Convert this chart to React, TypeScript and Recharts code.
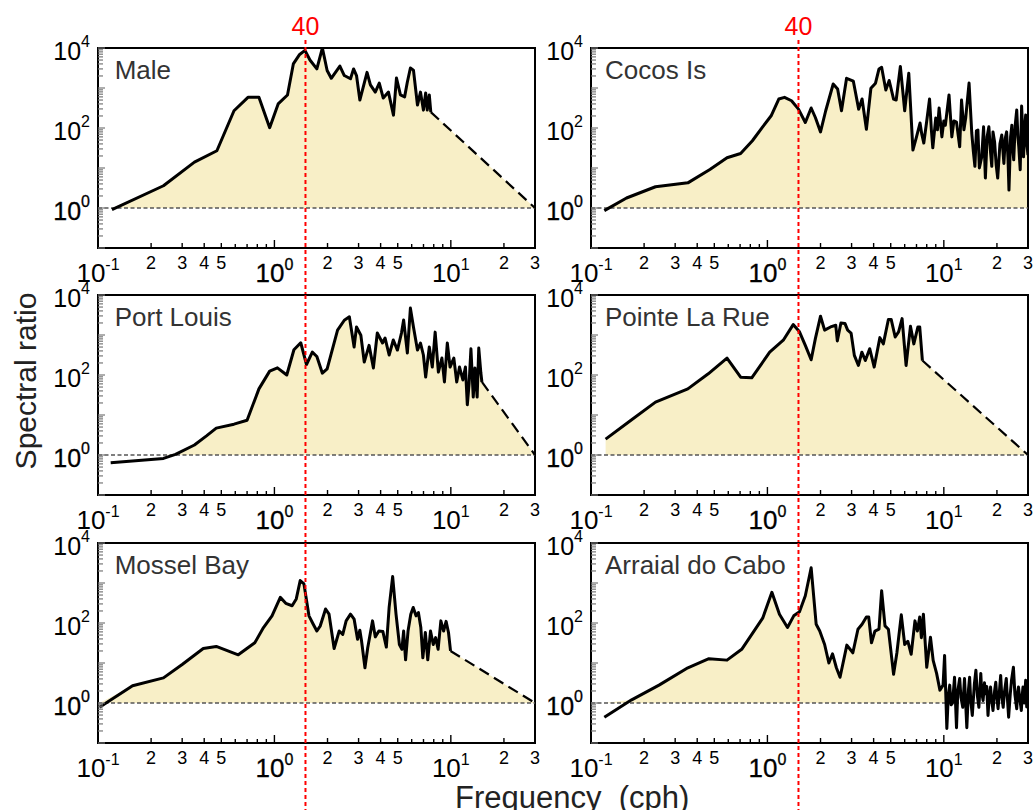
import React from 'react';
import { ComposedChart, Line, Area, XAxis, YAxis, ReferenceLine, ReferenceArea } from 'recharts';

// ---------------- DATA ----------------
const X_TICKS = [0.1, 0.2, 0.3, 0.4, 0.5, 0.6, 0.7, 0.8, 0.9, 1, 2, 3, 4, 5, 6, 7, 8, 9, 10, 20, 30];
const Y_TICKS = [
  0.1, 0.2, 0.3, 0.4, 0.5, 0.6, 0.7, 0.8, 0.9, 1, 2, 3, 4, 5, 6, 7, 8, 9, 10, 20, 30, 40, 50, 60, 70, 80, 90,
  100, 200, 300, 400, 500, 600, 700, 800, 900, 1000, 2000, 3000, 4000, 5000, 6000, 7000, 8000, 9000, 10000,
];
const Y_LABELED_EXP = [4, 2, 0];
const X_DOMAIN: [number, number] = [0.1, 30];
const Y_DOMAIN: [number, number] = [0.1, 10000];
const PERIOD_FREQ = 1.5; // 40-min period in cph
const PERIOD_LABEL = '40';
const BASE_RATIO = 1;
const EXTRAP_END: [number, number] = [30, 1];

const MALE: [number, number][] = [
  [0.12, 0.91], [0.235, 3.6], [0.352, 14], [0.472, 27], [0.59, 270], [0.708, 585], [0.817, 585], [0.94, 102],
  [1.05, 400], [1.186, 670], [1.28, 4000], [1.39, 6900], [1.49, 8700], [1.59, 5000], [1.74, 3000], [1.87, 10000],
  [1.99, 2740], [2.1, 1750], [2.35, 3540], [2.49, 2050], [2.7, 1700], [2.81, 3000], [2.92, 2050], [3.05, 500],
  [3.35, 2460], [3.5, 1200], [3.73, 790], [3.93, 1330], [4.14, 560], [4.43, 790], [4.73, 210], [4.92, 1780],
  [5.18, 670], [5.47, 600], [5.67, 1410], [5.9, 3160], [6.14, 2800], [6.47, 375], [6.73, 790], [6.99, 280],
  [7.2, 750], [7.35, 280], [7.55, 670], [7.7, 250],
];

const COCOS: [number, number][] = [
  [0.119, 0.86], [0.159, 1.78], [0.232, 3.4], [0.354, 4.25], [0.472, 9.2], [0.59, 18], [0.705, 23], [0.822, 48],
  [0.94, 107], [1.05, 202], [1.16, 530], [1.25, 585], [1.37, 480], [1.5, 296], [1.64, 137], [1.77, 316],
  [1.87, 183], [2.0, 80], [2.14, 270], [2.36, 1260], [2.5, 950], [2.63, 270], [2.81, 1750], [3.07, 1480],
  [3.29, 296], [3.44, 530], [3.64, 93], [3.86, 985], [4.1, 1320], [4.29, 3000], [4.44, 3300], [4.69, 890],
  [4.9, 1540], [5.19, 530], [5.37, 500], [5.67, 3470], [6.0, 270], [6.33, 2340], [6.68, 28], [7.0, 60],
  [7.33, 133], [7.5, 70], [7.7, 42], [8.0, 150], [8.3, 530], [8.5, 90], [8.66, 32], [9.0, 178], [9.2, 90],
  [9.4, 316], [9.75, 60], [10.0, 150], [10.2, 117], [10.7, 670], [11.1, 60], [11.4, 150], [11.8, 140],
  [12.3, 34], [12.6, 500], [13.0, 90], [13.3, 178], [13.9, 1330], [14.4, 75], [14.7, 26], [15.0, 11],
  [15.3, 85], [15.6, 89], [15.9, 10], [16.4, 19], [16.8, 107], [17.2, 5.6], [17.6, 60], [18.0, 107],
  [18.4, 25], [18.7, 11], [19.0, 80], [19.4, 45], [19.8, 12], [20.2, 5.6], [20.8, 40], [21.3, 67],
  [21.9, 13], [22.3, 55], [22.7, 80], [23.1, 18], [23.4, 2.8], [23.9, 60], [24.3, 117], [24.6, 30],
  [24.9, 16], [25.4, 120], [25.9, 282], [26.3, 60], [26.6, 34], [27.1, 9], [27.6, 355], [28.0, 80],
  [28.3, 19], [28.7, 90], [29.1, 210], [29.5, 40], [30, 21],
];

const PORT_LOUIS: [number, number][] = [
  [0.118, 0.64], [0.235, 0.82], [0.275, 1.04], [0.352, 1.78], [0.412, 3.0], [0.468, 4.7], [0.59, 5.9],
  [0.7, 7.4], [0.817, 45], [0.94, 125], [1.04, 151], [1.175, 100], [1.29, 427], [1.41, 640], [1.52, 183],
  [1.64, 372], [1.74, 290], [1.87, 111], [1.99, 142], [2.28, 1320], [2.49, 2340], [2.66, 2840], [2.83, 500],
  [2.92, 1590], [3.09, 985], [3.23, 210], [3.44, 550], [3.64, 150], [3.83, 1120], [4.1, 630], [4.24, 840],
  [4.47, 316], [4.72, 750], [4.98, 420], [5.25, 1120], [5.4, 2370], [5.67, 355], [5.9, 4700], [6.14, 1590],
  [6.47, 420], [6.73, 630], [6.99, 316], [7.2, 89], [7.55, 500], [7.85, 158], [8.15, 1180], [8.5, 118],
  [8.9, 265], [9.2, 67], [9.55, 630], [9.9, 158], [10.4, 265], [10.8, 67], [11.2, 158], [11.7, 75],
  [12.1, 158], [12.4, 18], [12.7, 63], [13.0, 450], [13.4, 28], [13.7, 150], [14.1, 28], [14.4, 470],
  [14.8, 112], [15.0, 67],
];

const POINTE_LA_RUE: [number, number][] = [
  [0.121, 2.5], [0.167, 7.2], [0.232, 21], [0.354, 45], [0.462, 107], [0.59, 265], [0.705, 88], [0.815, 85],
  [1.03, 372], [1.23, 740], [1.4, 1820], [1.52, 1200], [1.64, 550], [1.77, 240], [1.87, 810], [2.0, 2950],
  [2.11, 1320], [2.28, 1590], [2.44, 1750], [2.49, 710], [2.61, 2000], [2.75, 1950], [2.85, 1320],
  [2.98, 1120], [3.11, 310], [3.28, 173], [3.43, 372], [3.59, 230], [3.8, 455], [4.03, 158], [4.34, 860],
  [4.54, 600], [4.85, 2450], [5.03, 2450], [5.3, 890], [5.54, 1200], [5.8, 2570], [6.11, 173], [6.47, 1660],
  [6.76, 600], [7.13, 1590], [7.3, 1590], [7.56, 230],
];

const MOSSEL_BAY: [number, number][] = [
  [0.102, 0.78], [0.157, 2.7], [0.235, 4.25], [0.3, 9.2], [0.395, 23], [0.468, 26], [0.624, 16], [0.774, 32],
  [0.867, 77], [0.969, 151], [1.08, 437], [1.16, 310], [1.26, 270], [1.33, 400], [1.4, 1150], [1.47, 950],
  [1.57, 151], [1.66, 93], [1.74, 63], [1.82, 85], [1.95, 224], [2.04, 166], [2.18, 23], [2.33, 63],
  [2.44, 52], [2.55, 113], [2.7, 166], [2.83, 125], [2.96, 39], [3.05, 66], [3.12, 35], [3.26, 7.6],
  [3.38, 24], [3.6, 113], [3.73, 45], [3.91, 63], [4.12, 61], [4.31, 25], [4.47, 245], [4.68, 1450],
  [4.89, 166], [5.11, 29], [5.28, 22], [5.4, 63], [5.54, 12], [5.72, 63], [5.93, 166], [6.12, 245],
  [6.35, 151], [6.55, 183], [6.76, 77], [6.94, 13.5], [7.17, 58], [7.4, 12], [7.67, 63], [7.95, 29],
  [8.2, 43], [8.47, 22], [8.78, 113], [9.1, 63], [9.4, 110], [9.7, 58], [9.96, 20],
];

const ARRAIAL: [number, number][] = [
  [0.119, 0.44], [0.17, 1.2], [0.243, 2.8], [0.354, 7.6], [0.466, 12.8], [0.59, 11.8], [0.715, 22],
  [0.83, 58], [0.94, 132], [1.06, 585], [1.17, 166], [1.3, 77], [1.41, 151], [1.52, 190], [1.64, 480],
  [1.77, 2400], [1.89, 93], [1.98, 63], [2.11, 29], [2.23, 10], [2.34, 17], [2.46, 7.6], [2.58, 4.4],
  [2.82, 28], [3.05, 18], [3.26, 70], [3.44, 93], [3.64, 142], [3.75, 142], [3.89, 32], [4.07, 63],
  [4.29, 70], [4.44, 640], [4.64, 85], [4.85, 70], [5.19, 5.2], [5.42, 18], [5.74, 160], [6.0, 29],
  [6.25, 35], [6.53, 16.5], [6.86, 113], [7.08, 63], [7.3, 142], [7.46, 43], [7.66, 166], [8.0, 7.8],
  [8.4, 44], [8.7, 11.6], [9.1, 5.5], [9.5, 2.1], [9.9, 2.8], [10.1, 15.5], [10.4, 0.23], [10.6, 1.5],
  [10.8, 2.8], [11.0, 0.9], [11.2, 1.0], [11.5, 4.4], [11.8, 0.24], [12.0, 2.0], [12.3, 4.1], [12.5, 1.4],
  [12.8, 0.78], [13.1, 4.1], [13.5, 0.24], [13.8, 2.2], [14.0, 4.4], [14.2, 1.2], [14.5, 0.49], [14.9, 3.0],
  [15.2, 6.6], [15.5, 1.5], [15.8, 0.78], [16.2, 5.5], [16.4, 1.8], [16.7, 1.16], [17.0, 3.2], [17.2, 1.7],
  [17.5, 2.6], [17.8, 0.49], [18.1, 1.6], [18.4, 2.5], [18.7, 1.1], [19.0, 0.65], [19.4, 2.0], [19.7, 3.3],
  [20.0, 1.3], [20.3, 0.72], [20.7, 2.2], [21, 4.9], [21.3, 1.5], [21.7, 0.78], [22.1, 2.0], [22.6, 4.1],
  [22.9, 1.4], [23.3, 0.44], [23.8, 1.7], [24.2, 3.7], [24.8, 7.8], [25.3, 1.6], [25.9, 0.72], [26.2, 1.8],
  [26.5, 2.5], [27.0, 1.2], [27.5, 0.65], [27.8, 1.5], [28.1, 2.5], [28.6, 1.0], [29.1, 3.7], [29.5, 0.8],
  [30, 1.0],
];

const PANEL_NAMES = ['Male', 'Cocos Is', 'Port Louis', 'Pointe La Rue', 'Mossel Bay', 'Arraial do Cabo'];
const PANEL_SERIES = [MALE, COCOS, PORT_LOUIS, POINTE_LA_RUE, MOSSEL_BAY, ARRAIAL];
const PANEL_EXTRAP = [true, false, true, true, true, false];
const PANEL_FILL_MAX = [30, 30, 30, 30, 30, 10.1];

// ---------------- LAYOUT / STYLE ----------------
const FONT = '"Liberation Sans", Arial, Helvetica, sans-serif';
const PAGE_H = 810;
const PLOT_LEFT = [97.7, 591];
const PLOT_TOP = [47.5, 295, 542.6];
const PLOT_W = 437;
const PLOT_H = 200;
const PX_PER_DECADE = 40;
const M_LEFT = 90;
const M_TOP = 47;
const FILL = '#f8efc7';

function decomp(v: number) {
  const e = Math.floor(Math.log10(v) + 1e-9);
  const m = Math.round(v / Math.pow(10, e));
  return { e, m };
}

const XTick = (props: any) => {
  const { x, y, payload } = props;
  const { e, m } = decomp(payload.value);
  const major = m === 1;
  const labeled = m <= 5;
  const len = major ? 8 : labeled ? 5 : 4;
  return (
    <g>
      <line x1={x} x2={x} y1={y} y2={y - len} stroke="#000" strokeWidth={1.4} />
      {major ? (
        <text
          x={x}
          y={y + 34}
          textAnchor="middle"
          fontFamily={FONT}
          fontSize={26}
          fill="#000"
          stroke={e === 0 ? '#000' : 'none'}
          strokeWidth={0.3}
        >
          10
          <tspan fontSize={16} dy={-12}>
            {e}
          </tspan>
        </text>
      ) : labeled ? (
        <text x={x} y={y + 21} textAnchor="middle" fontFamily={FONT} fontSize={18} fill="#000">
          {m}
        </text>
      ) : null}
    </g>
  );
};

const YTick = (props: any) => {
  const { x, y, payload } = props;
  const { e, m } = decomp(payload.value);
  const major = m === 1;
  const labeled = major && Y_LABELED_EXP.includes(e);
  const len = major ? 7 : 5;
  return (
    <g>
      <line x1={x} x2={x + len} y1={y} y2={y} stroke="#777" strokeWidth={1.2} />
      {labeled ? (
        <text
          x={x - 8}
          y={y + 12}
          textAnchor="end"
          fontFamily={FONT}
          fontSize={25}
          fill="#000"
          stroke={e === 0 ? '#000' : 'none'}
          strokeWidth={0.3}
        >
          10
          <tspan fontSize={16} dy={-13}>
            {e}
          </tspan>
        </text>
      ) : null}
    </g>
  );
};

function Panel({ idx }: { idx: number }) {
  const col = idx % 2;
  const row = Math.floor(idx / 2);
  const series = PANEL_SERIES[idx];
  const pts = series.map(([f, v]) => ({ f, v }));
  const last = pts[pts.length - 1];
  const extrap = PANEL_EXTRAP[idx];
  const endPt = { f: EXTRAP_END[0], v: EXTRAP_END[1] };
  const extPts = extrap ? [last, endPt] : [];
  const fillPts = [...pts.filter((d) => d.f <= PANEL_FILL_MAX[idx]), ...(extrap ? [endPt] : [])].map((d) => ({
    f: d.f,
    fv: Math.max(d.v, BASE_RATIO),
  }));

  const rightM = col === 0 ? 6 : 5;
  const bottomM = row === 2 ? 27 : 7;
  const xAxisH = 40;
  const width = M_LEFT + PLOT_W + rightM;
  const height = M_TOP + PLOT_H + xAxisH + bottomM;
  const left = PLOT_LEFT[col] - M_LEFT;
  const top = PLOT_TOP[row] - M_TOP;

  // red period line: continuous from above the first row down to the page bottom, no overlap between rows
  const plotBottom = PLOT_TOP[row] + PLOT_H;
  const nextTop = row < 2 ? PLOT_TOP[row + 1] : PAGE_H;
  const topExt = row === 0 ? 8 : 0;
  const botExt = nextTop - plotBottom;
  const redTop = Math.pow(10, Math.log10(Y_DOMAIN[1]) + topExt / PX_PER_DECADE);
  const redBot = Math.pow(10, Math.log10(Y_DOMAIN[0]) - botExt / PX_PER_DECADE);

  return (
    <div style={{ position: 'absolute', left, top, width, height }}>
      <ComposedChart width={width} height={height} margin={{ top: M_TOP, right: rightM, bottom: bottomM, left: M_LEFT - 80 }}>
        <XAxis
          type="number"
          dataKey="f"
          scale="log"
          domain={X_DOMAIN}
          allowDataOverflow
          ticks={X_TICKS}
          interval={0}
          tick={(p: any) => <XTick {...p} />}
          tickLine={false}
          axisLine={false}
          tickSize={0}
          tickMargin={0}
          height={xAxisH}
        />
        <YAxis
          type="number"
          scale="log"
          domain={Y_DOMAIN}
          allowDataOverflow
          ticks={Y_TICKS}
          interval={0}
          tick={(p: any) => <YTick {...p} />}
          tickLine={false}
          axisLine={false}
          tickSize={0}
          tickMargin={0}
          width={80}
        />
        <Area
          data={fillPts}
          dataKey="fv"
          type="linear"
          baseValue={BASE_RATIO}
          stroke="none"
          fill={FILL}
          fillOpacity={1}
          isAnimationActive={false}
        />
        <ReferenceLine y={BASE_RATIO} stroke="#555" strokeDasharray="4 2.5" strokeWidth={1.3} ifOverflow="visible" />
        <Line
          data={pts}
          dataKey="v"
          type="linear"
          stroke="#000"
          strokeWidth={3}
          dot={false}
          strokeLinejoin="round"
          isAnimationActive={false}
        />
        {extrap ? (
          <Line
            data={extPts}
            dataKey="v"
            type="linear"
            stroke="#000"
            strokeWidth={2.2}
            strokeDasharray="11 6"
            dot={false}
            isAnimationActive={false}
          />
        ) : null}
        <ReferenceLine
          segment={[
            { x: PERIOD_FREQ, y: redTop },
            { x: PERIOD_FREQ, y: redBot },
          ]}
          stroke="#ff0000"
          strokeWidth={2}
          strokeDasharray="4 3"
          ifOverflow="visible"
        />
        <ReferenceArea
          x1={X_DOMAIN[0]}
          x2={X_DOMAIN[1]}
          y1={Y_DOMAIN[0]}
          y2={Y_DOMAIN[1]}
          fill="none"
          stroke="#000"
          strokeWidth={2}
          ifOverflow="visible"
        />
      </ComposedChart>
    </div>
  );
}

export default function App() {
  return (
    <div
      style={{
        position: 'absolute',
        left: 0,
        top: 0,
        width: 1033,
        height: PAGE_H,
        overflow: 'hidden',
        background: '#fff',
      }}
    >
      {PANEL_NAMES.map((_, i) => (
        <Panel key={i} idx={i} />
      ))}
      <svg
        width={1033}
        height={PAGE_H}
        style={{ position: 'absolute', left: 0, top: 0, pointerEvents: 'none' }}
      >
        {PANEL_NAMES.map((name, i) => {
          const col = i % 2;
          const row = Math.floor(i / 2);
          return (
            <text
              key={name}
              x={PLOT_LEFT[col] + (col === 0 ? 17 : 14)}
              y={PLOT_TOP[row] + 31}
              fontFamily={FONT}
              fontSize={26}
              fill="#333"
            >
              {name}
            </text>
          );
        })}
        {[305.5, 798.5].map((x) => (
          <text key={x} x={x} y={35} textAnchor="middle" fontFamily={FONT} fontSize={25} fill="#ff0000">
            {PERIOD_LABEL}
          </text>
        ))}
        <text
          x={36}
          y={381}
          transform="rotate(-90 36 381)"
          textAnchor="middle"
          fontFamily={FONT}
          fontSize={30}
          fill="#222"
        >
          Spectral ratio
        </text>
        <text x={455} y={808} fontFamily={FONT} fontSize={31} fill="#222" style={{ whiteSpace: 'pre' }}>
          {'Frequency  (cph)'}
        </text>
      </svg>
    </div>
  );
}
